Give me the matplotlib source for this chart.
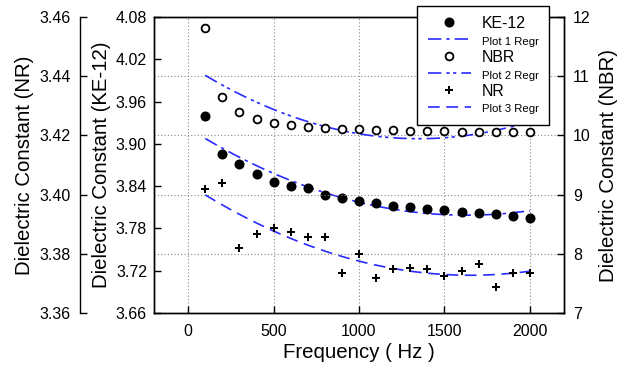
import numpy as np
import matplotlib
matplotlib.use("Agg")
import matplotlib.pyplot as plt
from matplotlib.lines import Line2D

plt.rcParams['font.family'] = ['Liberation Sans', 'DejaVu Sans']

freq = [100, 200, 300, 400, 500, 600, 700, 800, 900, 1000,
        1100, 1200, 1300, 1400, 1500, 1600, 1700, 1800, 1900, 2000]
ke12 = [3.940, 3.886, 3.872, 3.857, 3.846, 3.840, 3.837, 3.828, 3.823, 3.819,
        3.816, 3.812, 3.810, 3.807, 3.806, 3.804, 3.802, 3.800, 3.797, 3.795]
nbr = [11.81, 10.65, 10.39, 10.27, 10.21, 10.17, 10.14, 10.13, 10.11, 10.10,
       10.09, 10.09, 10.08, 10.07, 10.07, 10.06, 10.06, 10.06, 10.06, 10.05]
nr = [3.4019, 3.4040, 3.3819, 3.3867, 3.3887, 3.3874, 3.3856, 3.3856, 3.3735, 3.3798,
      3.3719, 3.3748, 3.3753, 3.3748, 3.3726, 3.3743, 3.3767, 3.3688, 3.3736, 3.3736]

x_ticks = [0, 500, 1000, 1500, 2000]
ke_ticks = [3.66, 3.72, 3.78, 3.84, 3.90, 3.96, 4.02, 4.08]
nr_ticks = [3.36, 3.38, 3.40, 3.42, 3.44, 3.46]
nbr_ticks = [7, 8, 9, 10, 11, 12]

blue = '#2a2aff'
W, H = 629, 374
fig = plt.figure(figsize=(W / 100, H / 100), dpi=100)
L, R, T, B = 154, 564, 17, 313
ax = fig.add_axes([L / W, 1 - B / H, (R - L) / W, (B - T) / H])
ax_nbr = ax.twinx()
ax_nr = ax.twinx()

f = np.array(freq, dtype=float)
xx = np.linspace(100, 2000, 200)

def fit(y):
    c = np.polyfit(f, np.array(y, dtype=float), 2)
    return np.polyval(c, xx)

# KE-12 on host axis
ax.plot(f, ke12, 'o', color='black', ms=6.2, zorder=3)
ax.plot(xx, fit(ke12), color=blue, lw=1.2, dashes=(8, 3, 2, 3))
ax.set_xlim(-200, 2200)
ax.set_ylim(3.66, 4.08)
ax.set_xticks(x_ticks)
ax.set_yticks(ke_ticks)
ax.set_yticklabels([f'{v:.2f}' for v in ke_ticks])

# NBR on right
ax_nbr.plot(f, nbr, 'o', mfc='white', mec='black', mew=1.3, ms=5.6, zorder=3)
ax_nbr.plot(xx, fit(nbr), color=blue, lw=1.2, dashes=(8, 3, 2, 2, 2, 3))
ax_nbr.set_ylim(7, 12)
ax_nbr.set_yticks(nbr_ticks)
ax_nbr.grid(True, which='major', axis='y', color='#888888', ls=(0, (1, 2)), lw=0.8)
ax.grid(True, which='major', axis='x', color='#888888', ls=(0, (1, 2)), lw=0.8)

# NR on offset left
ax_nr.plot(f, nr, 'P', color='black', ms=5.5, mew=0, zorder=3)
ax_nr.plot(xx, fit(nr), color=blue, lw=1.2, dashes=(7, 4))
ax_nr.set_ylim(3.36, 3.46)
ax_nr.set_yticks(nr_ticks)
ax_nr.set_yticklabels([f'{v:.2f}' for v in nr_ticks])
ax_nr.spines['left'].set_position(('axes', (80 - L) / (R - L)))
ax_nr.spines['left'].set_visible(True)
for s in ['right', 'top', 'bottom']:
    ax_nr.spines[s].set_visible(False)
ax_nr.yaxis.set_ticks_position('left')
ax_nr.yaxis.set_label_position('left')

for a in (ax, ax_nbr, ax_nr):
    for s in a.spines.values():
        s.set_linewidth(1.0)
    a.tick_params(direction='in', labelsize=11.5, length=5, width=1.0)
ax.tick_params(axis='x', pad=8)
ax.tick_params(axis='y', pad=5)
ax_nbr.tick_params(axis='y', pad=6.5)
ax_nr.tick_params(axis='y', pad=6.5)

ax.set_xlabel('Frequency ( Hz )', fontsize=14.7)
ax.set_ylabel('Dielectric Constant (KE-12)', fontsize=14.7)
ax_nbr.set_ylabel('Dielectric Constant (NBR)', fontsize=14.7)
ax_nr.set_ylabel('Dielectric Constant (NR)', fontsize=14.7)
ax.xaxis.set_label_coords(0.5, -0.1)
ax.yaxis.set_label_coords((111 - L) / (R - L), 0.5)
ax_nr.yaxis.set_label_coords((34 - L) / (R - L), 0.5)
ax_nbr.yaxis.set_label_coords((599 - L) / (R - L), 0.5)

handles = [
    Line2D([], [], ls='none', marker='o', color='black', ms=6.2),
    Line2D([], [], color=blue, lw=1.2, dashes=(8, 3, 2, 3)),
    Line2D([], [], ls='none', marker='o', mfc='white', mec='black', mew=1.3, ms=5.6),
    Line2D([], [], color=blue, lw=1.2, dashes=(8, 3, 2, 2, 2, 3)),
    Line2D([], [], ls='none', marker='P', color='black', ms=5.5, mew=0),
    Line2D([], [], color=blue, lw=1.2, dashes=(7, 4)),
]
labels = ['KE-12', 'Plot 1 Regr', 'NBR', 'Plot 2 Regr', 'NR', 'Plot 3 Regr']
leg = fig.legend(handles, labels, loc='upper right',
                 bbox_to_anchor=(549 / W, 1 - 5.7 / H), borderaxespad=0,
                 fancybox=False, edgecolor='black', framealpha=1,
                 handlelength=2.72, handletextpad=0.7, labelspacing=0.18,
                 borderpad=0.65, fontsize=11.4)
leg.get_frame().set_linewidth(1.0)
for i, t in enumerate(leg.get_texts()):
    if i % 2 == 1:
        t.set_fontsize(8.2)

fig.savefig('out.png', dpi=100)
